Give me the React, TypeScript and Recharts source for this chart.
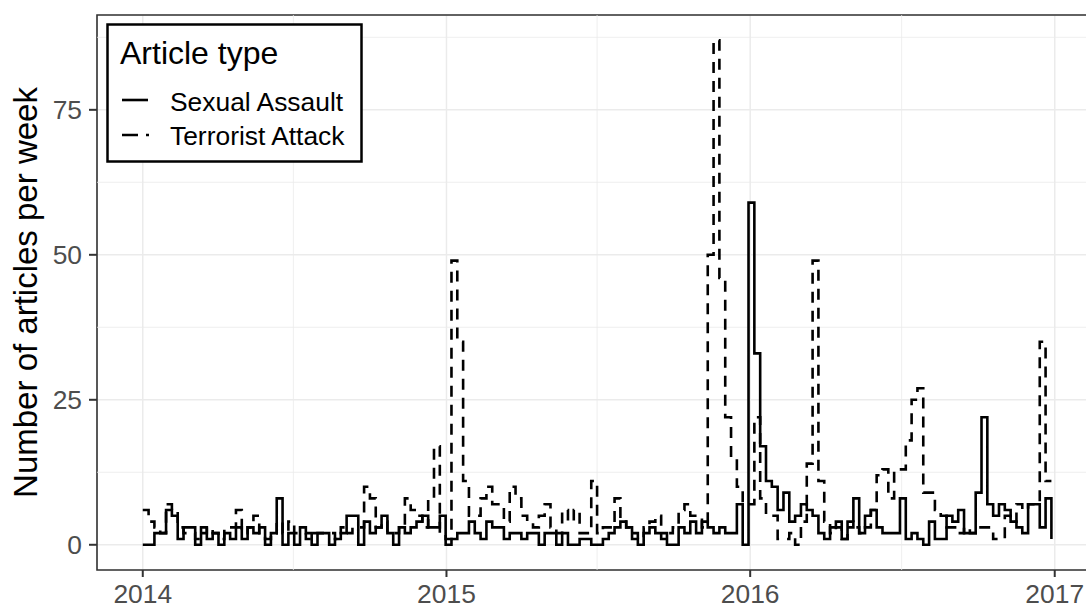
import React from 'react';
import {
  LineChart,
  Line,
  XAxis,
  YAxis,
  CartesianGrid,
  ReferenceLine,
  ReferenceArea,
  Legend,
} from 'recharts';

// weekly article counts, one value per week starting 2014-01-01
const sexualAssault2014 = [
  0, 0, 2, 2, 6, 5, 1, 3, 3, 0, 3, 1, 2, 0, 2, 1, 3, 1, 3, 2, 3, 0, 2, 8, 0, 2,
  0, 3, 2, 0, 2, 2, 0, 1, 2, 5, 5, 0, 4, 2, 3, 5, 2, 0, 3, 2, 3, 4, 5, 3, 3, 5,
];
const sexualAssault2015 = [
  0, 1, 2, 2, 4, 2, 1, 4, 3, 3, 1, 2, 2, 1, 2, 2, 0, 2, 2, 0, 2, 0, 0, 1, 1, 0,
  0, 1, 2, 3, 4, 3, 1, 0, 2, 3, 2, 2, 0, 0, 3, 2, 4, 2, 4, 3, 2, 3, 2, 2, 7, 0,
];
const sexualAssault2016 = [
  59, 33, 17, 11, 10, 6, 9, 4, 5, 7, 6, 5, 2, 1, 3, 4, 1, 3, 8, 2, 5, 6, 3, 2, 2,
  2, 8, 1, 2, 1, 0, 4, 1, 1, 5, 4, 6, 2, 2, 9, 22, 7, 5, 7, 6, 4, 3, 2, 7, 7, 3,
  8, 1,
];

const terroristAttack2014 = [
  6, 4, 3, 2, 7, 6, 3, 2, 2, 1, 2, 3, 2, 1, 3, 3, 6, 2, 3, 5, 2, 1, 2, 4, 2, 4,
  2, 2, 1, 2, 2, 2, 2, 1, 3, 2, 3, 3, 10, 8, 3, 4, 2, 2, 3, 8, 6, 5, 3, 8, 17, 2,
];
const terroristAttack2015 = [
  1, 49, 35, 11, 5, 5, 8, 10, 7, 7, 4, 10, 8, 5, 4, 3, 5, 7, 3, 2, 6, 4, 6, 2, 2,
  11, 2, 3, 3, 8, 4, 3, 2, 1, 3, 4, 5, 1, 2, 3, 6, 7, 5, 5, 3, 50, 87, 46, 22, 15,
  10, 7,
];
const terroristAttack2016 = [
  7, 22, 8, 5, 5, 1, 1, 2, 0, 4, 14, 49, 11, 4, 2, 3, 1, 4, 3, 2, 3, 6, 12, 13, 8,
  13, 13, 18, 25, 27, 9, 9, 6, 5, 3, 3, 2, 3, 2, 3, 3, 3, 1, 1, 5, 4, 7, 6, 7, 7,
  35, 11, 11,
];

// x axis works in days since 2014-01-01
const yearTicks = [0, 365, 730, 1096];
const yearLabels = ['2014', '2015', '2016', '2017'];
const midYearDays = [181, 546, 912];
const countTicks = [0, 25, 50, 75];
const countMinorTicks = [12.5, 37.5, 62.5, 87.5];

const sexualAssault = [...sexualAssault2014, ...sexualAssault2015, ...sexualAssault2016];
const terroristAttack = [
  ...terroristAttack2014,
  ...terroristAttack2015,
  ...terroristAttack2016,
];

const rows = sexualAssault.map((v, i) => ({
  day: i * 7,
  sexualAssault: v,
  terroristAttack: terroristAttack[i],
}));

const FONT = '"Liberation Sans", Arial, sans-serif';
const X_DOMAIN: [number, number] = [-55, 1148];
const Y_DOMAIN: [number, number] = [-4.35, 91.35];
const LINE_W = 2.6;
const DASH = '11 8';

const YTitle = ({ viewBox }: any) => {
  const cx = 37;
  const cy = viewBox.y + viewBox.height / 2;
  return (
    <text
      x={cx}
      y={cy}
      transform={`rotate(-90 ${cx} ${cy})`}
      textAnchor="middle"
      fontSize={33}
      fontFamily={FONT}
      fill="#000"
    >
      Number of articles per week
    </text>
  );
};

const ArticleLegend = () => (
  <svg width={258} height={141} style={{ display: 'block' }}>
    <rect x={1.5} y={1.5} width={254} height={137} fill="#fff" stroke="#000" strokeWidth={2.5} />
    <text x={14} y={41} fontSize={32} fontFamily={FONT} fill="#000">
      Article type
    </text>
    <line x1={16} x2={42} y1={77} y2={77} stroke="#000" strokeWidth={LINE_W} />
    <text x={64} y={88} fontSize={26.4} fontFamily={FONT} fill="#000">
      Sexual Assault
    </text>
    <line
      x1={16}
      x2={43}
      y1={112}
      y2={112}
      stroke="#000"
      strokeWidth={LINE_W}
      strokeDasharray="16 8"
    />
    <text x={64} y={122} fontSize={26.4} fontFamily={FONT} fill="#000">
      Terrorist Attack
    </text>
  </svg>
);

const ArticlesChart: React.FC = () => {
  return (
    <LineChart
      width={1098}
      height={608}
      data={rows}
      margin={{ top: 15, right: 0, bottom: 0, left: 0 }}
    >
      {countMinorTicks.map((v) => (
        <ReferenceLine key={`h${v}`} y={v} stroke="#EBEBEB" strokeWidth={0.8} />
      ))}
      {midYearDays.map((d) => (
        <ReferenceLine key={`v${d}`} x={d} stroke="#EBEBEB" strokeWidth={0.8} />
      ))}
      <CartesianGrid stroke="#EBEBEB" strokeWidth={1.5} />
      <XAxis
        type="number"
        dataKey="day"
        domain={X_DOMAIN}
        allowDataOverflow
        ticks={yearTicks}
        interval={0}
        tickFormatter={(d: number) => yearLabels[yearTicks.indexOf(d)]}
        axisLine={false}
        tickLine={{ stroke: '#333', strokeWidth: 2 }}
        tickSize={7}
        tickMargin={7}
        height={38}
        tick={{ fill: '#4D4D4D', fontSize: 26.4, fontFamily: FONT }}
      />
      <YAxis
        type="number"
        domain={Y_DOMAIN}
        allowDataOverflow
        ticks={countTicks}
        interval={0}
        axisLine={false}
        tickLine={{ stroke: '#333', strokeWidth: 2 }}
        tickSize={8}
        tickMargin={7}
        width={97}
        tick={{ fill: '#4D4D4D', fontSize: 26.4, fontFamily: FONT }}
        label={<YTitle />}
      />
      <Line
        type="stepAfter"
        dataKey="terroristAttack"
        stroke="#000"
        strokeWidth={LINE_W}
        strokeDasharray={DASH}
        dot={false}
        activeDot={false}
        isAnimationActive={false}
      />
      <Line
        type="stepAfter"
        dataKey="sexualAssault"
        stroke="#000"
        strokeWidth={LINE_W}
        dot={false}
        activeDot={false}
        isAnimationActive={false}
      />
      <ReferenceArea
        x1={X_DOMAIN[0]}
        x2={X_DOMAIN[1]}
        y1={Y_DOMAIN[0]}
        y2={Y_DOMAIN[1]}
        fill="none"
        stroke="#333"
        strokeWidth={1.6}
      />
      <Legend
        content={<ArticleLegend />}
        layout="vertical"
        align="center"
        verticalAlign="middle"
        wrapperStyle={{ left: 106, top: 23, width: 258, height: 141 }}
      />
    </LineChart>
  );
};

export default function App() {
  return (
    <div
      style={{
        position: 'fixed',
        left: 0,
        top: 0,
        width: 1086,
        height: 608,
        overflow: 'hidden',
        background: '#fff',
      }}
    >
      <ArticlesChart />
    </div>
  );
}
